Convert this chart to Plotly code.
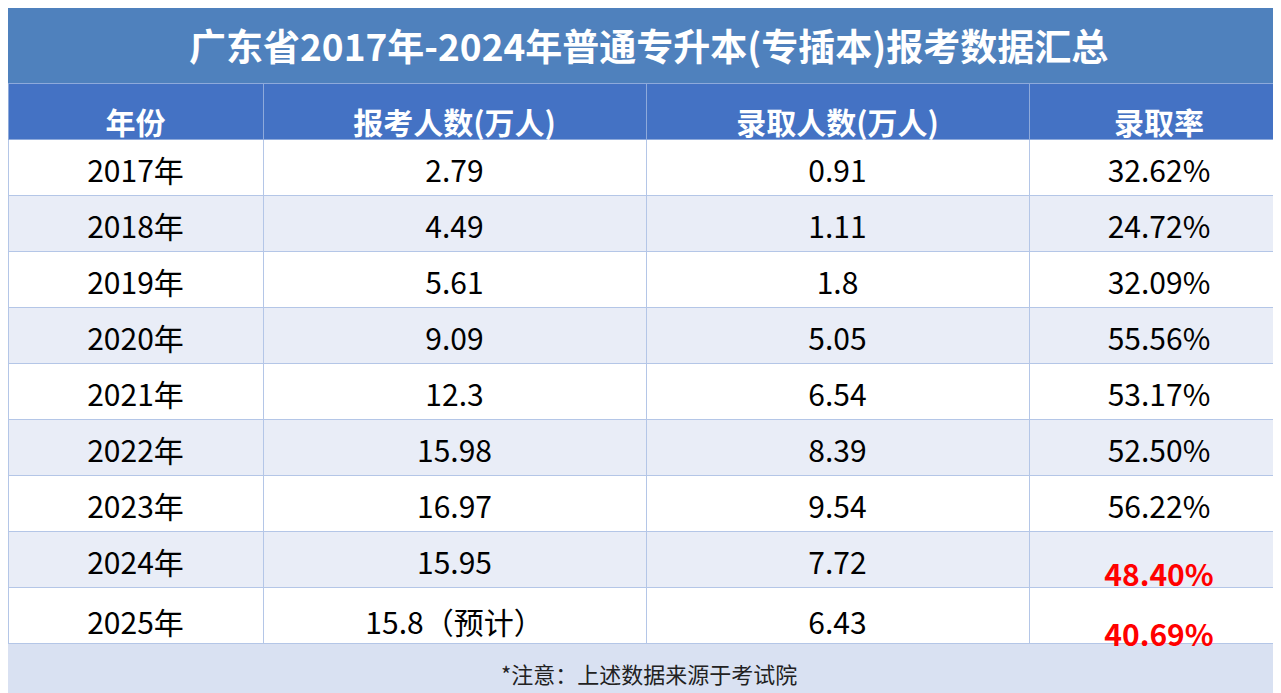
import plotly.graph_objects as go

years = ["2017年","2018年","2019年","2020年","2021年","2022年","2023年","2024年","2025年"]
applicants = ["2.79","4.49","5.61","9.09","12.3","15.98","16.97","15.95","15.8（预计）"]
admitted = ["0.91","1.11","1.8","5.05","6.54","8.39","9.54","7.72","6.43"]
rates = ["32.62%","24.72%","32.09%","55.56%","53.17%","52.50%","56.22%","48.40%","40.69%"]
headers = ["年份","报考人数(万人)","录取人数(万人)","录取率"]
highlight = [False]*7 + [True, True]

W, H = 1281, 693
font = "Noto Sans CJK SC"
rate_txt = [f"<b>{r}</b>" if h else r for r, h in zip(rates, highlight)]
rate_col = ["#ff0000" if h else "#000000" for h in highlight]
fills = ["#ffffff" if i % 2 == 0 else "#e9edf7" for i in range(len(years))]
n = len(years)
widths = [255, 383, 383, 260]
shift = 8

# background grid table (fills + lines, no text)
fig = go.Figure(go.Table(
    columnwidth=widths,
    domain=dict(x=[0, 1], y=[57/H, 1-75/H]),
    header=dict(values=[""]*4, fill_color="#4472c4", line_color="#8eaadb", height=56),
    cells=dict(values=[[""]*n]*4, fill_color=[fills]*4, line_color="#b4c6e7", height=56),
))
# text table, shifted down to centre the text vertically
fig.add_trace(go.Table(
    columnwidth=widths,
    domain=dict(x=[0, 1], y=[(57-shift)/H, 1-(75+shift)/H]),
    header=dict(values=[f"<b>{h}</b>" for h in headers], fill_color="rgba(0,0,0,0)",
                line_color="rgba(0,0,0,0)", height=56, align="center",
                font=dict(family=font, size=30, color="white")),
    cells=dict(values=[years, applicants, admitted, rate_txt],
               fill_color="rgba(0,0,0,0)", line_color="rgba(0,0,0,0)", height=56, align="center",
               font=dict(family=font, size=30,
                         color=[["#000"]*n, ["#000"]*n, ["#000"]*n, rate_col])),
))
fig.update_layout(
    width=W, height=H, margin=dict(l=0, r=0, t=0, b=0), paper_bgcolor="white",
    shapes=[
        dict(type="rect", xref="paper", yref="paper", x0=0, x1=1, y0=1-75/H, y1=1,
             fillcolor="#4f81bd", line_width=0, layer="below"),
        dict(type="rect", xref="paper", yref="paper", x0=0, x1=1, y0=0, y1=57/H,
             fillcolor="#d9e1f2", line_width=0, layer="below"),
    ],
    annotations=[
        dict(text="<b>广东省2017年-2024年普通专升本(专插本)报考数据汇总</b>", x=0.5, y=1-37/H,
             xref="paper", yref="paper", showarrow=False, yanchor="middle",
             font=dict(family=font, size=37, color="white")),
        dict(text="*注意：上述数据来源于考试院", x=0.5, y=28/H, xref="paper", yref="paper",
             showarrow=False, yanchor="middle", font=dict(family=font, size=22, color="#222")),
    ],
)
fig.write_html("out.html")
